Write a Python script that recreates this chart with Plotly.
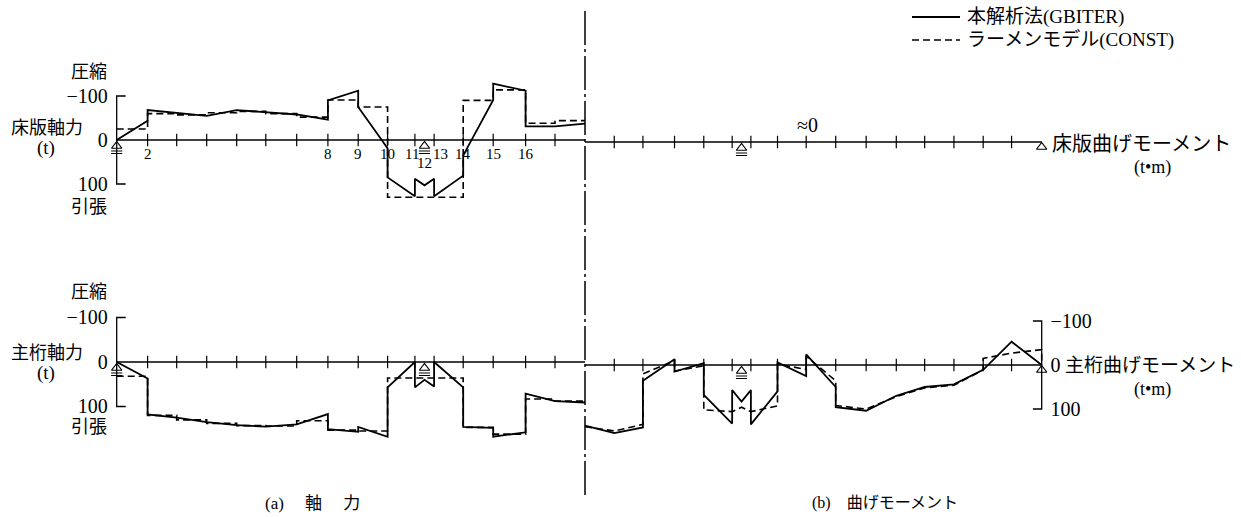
import numpy as np
import plotly.graph_objects as go

# ---------------- data ----------------
node_ids = list(range(1, 19))
# node positions along the half bridge (node 1 = end support, 12 = pier, 18 = centre)
node_pos = [0.0, 10.3, 20.0, 30.0, 40.0, 49.7, 60.0, 70.4, 80.5, 90.3,
            99.4, 102.6, 105.8, 115.5, 125.5, 136.3, 146.1, 156.1]
tick_nodes = [2, 3, 4, 5, 6, 7, 8, 9, 10, 11, 13, 14, 15, 16, 17]
node_label_ids = [2, 8, 9, 10, 11, 12, 13, 14, 15, 16]
node_labels = ["2", "8", "9", "10", "11", "12", "13", "14", "15", "16"]

y_tickvals = [-100, 0, 100]
y_ticktext = ["\u2212100", "0", "100"]

# (a) 床版軸力 (t)  compression negative
slab_axial_gb_st = [1, 2, 2, 3, 4, 5, 6, 7, 8, 8, 9, 9, 9.8, 10, 10, 11, 11, 12,
                    13, 13, 14, 14, 15, 15, 16, 16, 17, 18]
slab_axial_gb_val = [0, -44, -68, -61, -55, -68, -63, -58, -46, -90, -112, -75, 0, 19,
                     85, 128, 88, 103, 88, 128, 81, 35, -91, -128, -112, -31, -31, -37]
slab_axial_const_elem = [-25, -60, -57, -62, -65, -60, -52, -91, -75,
                         130, 130, 130, 130, -90, -114, -38, -44]

# (a) 主桁軸力 (t)
girder_axial_gb_st = [1, 2, 2, 3, 4, 5, 6, 7, 8, 8, 9, 9, 10, 10, 11, 11, 12, 13,
                      13, 14, 14, 15, 15, 16, 16, 17, 18]
girder_axial_gb_val = [0, 37, 118, 125, 135, 142, 145, 140, 117, 151, 157, 146, 168,
                       57, 0, 57, 40, 55, 0, 57, 146, 148, 168, 158, 71, 88, 91]
girder_axial_const_elem = [32, 120, 130, 138, 143, 144, 132, 153, 155,
                           36, 36, 36, 36, 147, 162, 83, 88]

# (b) 主桁曲げモーメント (t·m)
girder_moment_gb_st = [18, 17, 16, 16, 15, 15, 14, 14, 13, 13, 12, 11, 11, 10, 10,
                       9, 9, 8, 8, 7, 6, 5, 4, 3, 2, 1]
girder_moment_gb_val = [138, 155, 142, 36, -13, 15, -4, 68, 133, 57, 83, 57, 135, 60,
                        -6, 25, -24, 50, 96, 104, 70, 50, 44, 11, -53, 0]
girder_moment_const_st = [18, 17, 16, 16, 15, 15, 14, 14, 13, 12, 11, 10, 10, 9, 9,
                          8, 8, 7, 6, 5, 4, 3, 3, 2, 1, 1]
girder_moment_const_val = [140, 150, 135, 20, -10, 14, 2, 102, 106, 96, 106, 93, -2,
                           10, -20, 36, 92, 100, 72, 52, 46, 11, -15, -27, -35, 0]

name_gb = "本解析法(GBITER)"
name_const = "ラーメンモデル(CONST)"

# ---------------- layout geometry ----------------
W, H = 1241, 517
FONT = "Liberation Serif, Noto Sans CJK JP, serif"


def px_x(p):
    return p / W


def px_y(p):
    return 1 - p / H


def st_x(st):
    return np.interp(st, node_ids, node_pos).tolist()


X0, XC, XE = 116.7, 585.0, 1041.7
U_MAX = node_pos[-1]
PAD = 2.0
kL = (XC - X0) / U_MAX
kR = (XE - XC) / U_MAX
xdom_L = [px_x(X0 - PAD * kL), px_x(XC + PAD * kL)]
xdom_R = [px_x(XC - PAD * kR), px_x(XE + PAD * kR)]
xr_L = [-PAD, U_MAX + PAD]
xr_R = [U_MAX + PAD, -PAD]
YR = 185


def ydom(zero_px, k100):
    half = YR * k100 / 100
    return [px_y(zero_px + half), px_y(zero_px - half)]


panels = {
    # key: (xaxis id, yaxis id, zero px, px per 100, x domain, x range)
    "TL": ("x", "y", 140.0, 44.0, xdom_L, xr_L),
    "TR": ("x2", "y2", 142.0, 44.0, xdom_R, xr_R),
    "BL": ("x3", "y3", 362.0, 44.5, xdom_L, xr_L),
    "BR": ("x4", "y4", 365.0, 44.0, xdom_R, xr_R),
}

fig = go.Figure()
SOLID = dict(color="black", width=1.8)
DASH = dict(color="black", width=1.6, dash="7px,4px")


def add_series(panel, x, y, kind, shape="linear"):
    xa, ya = panels[panel][0], panels[panel][1]
    fig.add_trace(go.Scatter(
        x=x, y=y, xaxis=xa, yaxis=ya, mode="lines",
        line=dict(SOLID if kind == "gb" else DASH, shape=shape),
        name=name_gb if kind == "gb" else name_const,
        legendgroup=kind, showlegend=False, hoverinfo="skip"))


# data curves
add_series("TL", st_x(slab_axial_gb_st), slab_axial_gb_val, "gb")
add_series("TL", node_pos, slab_axial_const_elem + slab_axial_const_elem[-1:], "const",
           shape="hv")
add_series("BL", st_x(girder_axial_gb_st), girder_axial_gb_val, "gb")
add_series("BL", node_pos, girder_axial_const_elem + girder_axial_const_elem[-1:], "const",
           shape="hv")
add_series("BR", st_x(girder_moment_gb_st), girder_moment_gb_val, "gb")
add_series("BR", st_x(girder_moment_const_st), girder_moment_const_val, "const")

shapes = []
for key, (xa, ya, z, k, xd, xr) in panels.items():
    # zero axis line of each panel
    shapes.append(dict(type="line", xref=xa, yref=ya, x0=0, x1=U_MAX, y0=0, y1=0,
                       line=dict(color="black", width=1.3), layer="above"))
    # tick marks at the nodes
    fig.add_trace(go.Scatter(
        x=[node_pos[n - 1] for n in tick_nodes], y=[0] * len(tick_nodes),
        xaxis=xa, yaxis=ya, mode="markers", showlegend=False, hoverinfo="skip",
        marker=dict(symbol="line-ns", size=9, line=dict(width=1.2, color="black"))))
    unit = 100.0 / k  # data units per pixel
    sup = [1, 12] if key in ("TL", "BL") else [12]
    fig.add_trace(go.Scatter(
        x=[node_pos[n - 1] for n in sup], y=[6 * unit] * len(sup),
        xaxis=xa, yaxis=ya, mode="markers", showlegend=False, hoverinfo="skip",
        marker=dict(symbol="triangle-up-open", size=9, color="black",
                    line=dict(width=1.2, color="black"))))
    fig.add_trace(go.Scatter(
        x=[node_pos[n - 1] for n in sup] * 2,
        y=[11 * unit] * len(sup) + [13.5 * unit] * len(sup),
        xaxis=xa, yaxis=ya, mode="markers", showlegend=False, hoverinfo="skip",
        marker=dict(symbol="line-ew", size=8, line=dict(width=1.0, color="black"))))
    if key in ("TR", "BR"):
        fig.add_trace(go.Scatter(
            x=[node_pos[0]], y=[5 * unit], xaxis=xa, yaxis=ya, mode="markers",
            showlegend=False, hoverinfo="skip",
            marker=dict(symbol="triangle-up-open", size=9, color="black",
                        line=dict(width=1.2, color="black"))))
    if key in ("TL", "BL", "BR"):
        # bracket marking the force scale (−100 … 100)
        fig.add_trace(go.Scatter(
            x=[3, 0, 0, 3], y=[y_tickvals[0], y_tickvals[0], y_tickvals[-1], y_tickvals[-1]],
            xaxis=xa, yaxis=ya, mode="lines", showlegend=False, hoverinfo="skip",
            line=dict(color="black", width=1.3)))

# centre line (dash-dot)
shapes.append(dict(type="line", xref="paper", yref="paper", x0=px_x(XC), x1=px_x(XC),
                   y0=px_y(495), y1=px_y(8),
                   line=dict(color="black", width=1.5, dash="34px,4px,3px,4px")))

annotations = []


def txt(text, x, y, size=19, xanchor="center"):
    annotations.append(dict(text=text, x=px_x(x), y=px_y(y), xref="paper", yref="paper",
                            showarrow=False, xanchor=xanchor, yanchor="middle",
                            font=dict(family=FONT, size=size, color="black")))


# legend (line samples + names)
LEG_X0, LEG_X1, LEG_TX = 912, 960, 965
for (ypx, style, name) in [(17, SOLID, name_gb), (40, DASH, name_const)]:
    shapes.append(dict(type="line", xref="paper", yref="paper",
                       x0=px_x(LEG_X0), x1=px_x(LEG_X1), y0=px_y(ypx), y1=px_y(ypx),
                       line=style))
    txt(name, LEG_TX, ypx, size=19, xanchor="left")

# node numbers under the slab axis
label_xshift = {11: -3, 13: 6}
for n, lab in zip(node_label_ids, node_labels):
    annotations.append(dict(text=lab, x=node_pos[n - 1], y=0, xref="x", yref="y",
                            showarrow=False, yanchor="middle",
                            yshift=-(23 if n == 12 else 14),
                            xshift=label_xshift.get(n, 0),
                            font=dict(family=FONT, size=15, color="black")))

# axis titles / side labels
txt("圧縮", 89, 72, size=18)
txt("床版軸力", 47, 128, size=18)
txt("(t)", 46, 148, size=19)
txt("引張", 89, 207, size=18)
txt("圧縮", 89, 292, size=18)
txt("主桁軸力", 47, 353, size=18)
txt("(t)", 46, 373, size=19)
txt("引張", 89, 427, size=18)
txt("≈0", 807, 125, size=20)
txt("床版曲げモーメント", 1050, 144, size=20, xanchor="left")
txt("(t•m)", 1152, 167, size=18)
txt("主桁曲げモーメント", 1063, 365, xanchor="left")
txt("(t•m)", 1152, 389, size=18)
txt("(a)\u3000 軸\u3000 力", 312, 503, size=17)
txt("(b)\u3000曲げモーメント", 885, 503, size=16)

layout_axes = {}
for key, (xa, ya, z, k, xd, xr) in panels.items():
    xn = "xaxis" if xa == "x" else "xaxis" + xa[1:]
    yn = "yaxis" if ya == "y" else "yaxis" + ya[1:]
    layout_axes[xn] = dict(domain=xd, range=xr, anchor=ya, visible=False)
    show_labels = key in ("TL", "BL", "BR")
    layout_axes[yn] = dict(domain=ydom(z, k), range=[YR, -YR], anchor=xa,
                           side="right" if key == "BR" else "left",
                           showgrid=False, zeroline=False, showline=False, ticks="",
                           tickvals=y_tickvals, ticktext=y_ticktext,
                           showticklabels=show_labels, ticklabelstandoff=2,
                           tickfont=dict(family=FONT, size=20, color="black"))

fig.update_layout(
    width=W, height=H, margin=dict(l=0, r=0, t=0, b=0),
    paper_bgcolor="white", plot_bgcolor="rgba(0,0,0,0)",
    shapes=shapes, annotations=annotations, showlegend=False,
    **layout_axes)

fig.write_html("out.html", config={"displayModeBar": False},
               post_script="document.body.style.margin='0px';"
                           "document.body.style.overflow='hidden';")
